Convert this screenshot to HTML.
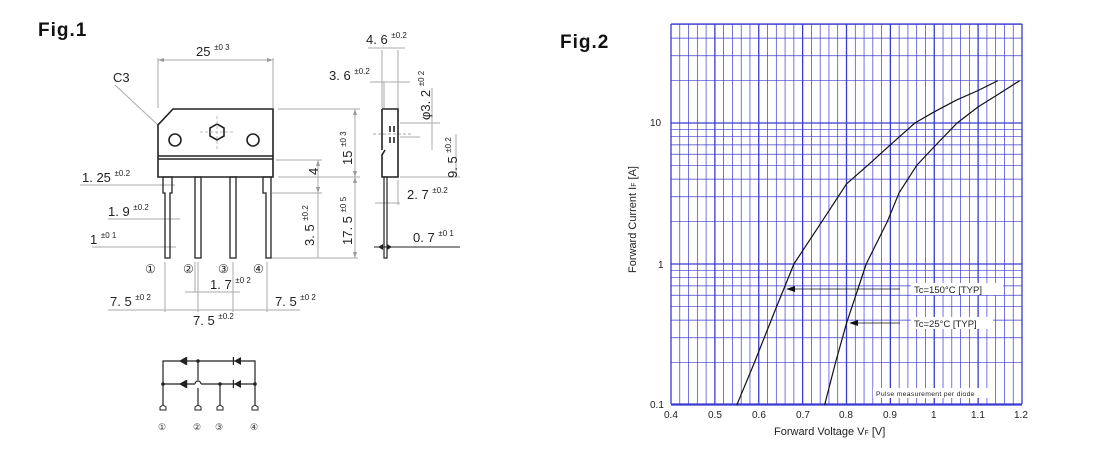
<!DOCTYPE html>
<html><head><meta charset="utf-8"><style>
html,body{margin:0;padding:0;background:#fff;width:1100px;height:450px;overflow:hidden}
svg{position:absolute;left:0;top:0}
text{font-family:"Liberation Sans",sans-serif}
.m{font-family:"Liberation Sans",sans-serif;font-size:13px;fill:#222}
.m tspan{font-size:8px}
</style></head><body>
<svg id="g" width="1100" height="450" viewBox="0 0 1100 450">
<text x="38" y="36" font-size="19" font-weight="bold" fill="#111" letter-spacing="1">Fig.1</text>
<text x="560" y="48" font-size="19" font-weight="bold" fill="#111" letter-spacing="1">Fig.2</text>

<g stroke="#aaa" stroke-width="1" fill="none">
<line x1="158" y1="58" x2="158" y2="108"/><line x1="273" y1="58" x2="273" y2="108"/>
<line x1="158" y1="60" x2="273" y2="60"/>
<line x1="115" y1="85" x2="158" y2="125"/>
<line x1="278" y1="109" x2="360" y2="109"/><line x1="278" y1="177" x2="360" y2="177"/>
<line x1="355" y1="109" x2="355" y2="258"/>
<line x1="276" y1="160" x2="322" y2="160"/><line x1="318" y1="160" x2="318" y2="258"/>
<line x1="272" y1="193" x2="322" y2="193"/>
<line x1="270" y1="258" x2="358" y2="258"/>
<line x1="80" y1="185" x2="175" y2="185"/>
<line x1="108" y1="219" x2="180" y2="219"/>
<line x1="92" y1="247" x2="176" y2="247"/>
<line x1="165" y1="262" x2="165" y2="312"/><line x1="198" y1="262" x2="198" y2="312"/>
<line x1="195" y1="262" x2="195" y2="292"/><line x1="233" y1="262" x2="233" y2="312"/><line x1="267" y1="262" x2="267" y2="312"/>
<line x1="108" y1="310" x2="300" y2="310"/>
<line x1="185" y1="292" x2="240" y2="292"/>
<line x1="368" y1="48" x2="405" y2="48"/>
<line x1="382" y1="50" x2="382" y2="108"/><line x1="398" y1="50" x2="398" y2="108"/>
<line x1="370" y1="82" x2="410" y2="82"/><line x1="384" y1="82" x2="384" y2="108"/>
<line x1="400" y1="123" x2="440" y2="123"/><line x1="400" y1="137" x2="420" y2="137"/>
<line x1="432" y1="88" x2="432" y2="150"/>
<line x1="400" y1="177" x2="460" y2="177"/>
<line x1="456" y1="134" x2="456" y2="177"/>
<line x1="375" y1="203" x2="400" y2="203"/><line x1="398" y1="180" x2="398" y2="205"/>
<line x1="373" y1="134" x2="412" y2="134" stroke-dasharray="3,2"/>
</g>
<g fill="#999"><path d="M158 60l6-2v4zM273 60l-6-2v4zM355 109l-2 6h4zM355 177l-2-6h4zM355 177l-2 6h4zM355 258l-2-6h4zM318 160l-2 6h4zM318 193l-2-6h4z"/></g>
<line x1="374" y1="247" x2="460" y2="247" stroke="#222" stroke-width="1"/>
<path d="M378 247l5-3v6zM392 247l-5-3v6z" fill="#222"/>

<g stroke="#222" stroke-width="1.6" fill="none">
<path d="M173 109H273V177H158V125Z"/>
<line x1="158" y1="156" x2="273" y2="156"/><line x1="158" y1="159" x2="273" y2="159"/>
<circle cx="175" cy="140" r="6"/><circle cx="253" cy="140" r="6"/>
<polygon points="217,124 224,128 224,136 217,140 210,136 210,128"/>
<path d="M163 177h9v16h-2v65h-5v-65h-2z" stroke-width="1.3"/>
<rect x="195" y="177" width="6" height="81" stroke-width="1.3"/>
<rect x="230" y="177" width="6" height="81" stroke-width="1.3"/>
<path d="M263 177h8v81h-5v-65h-3z" stroke-width="1.3"/>
<path d="M382 109h16v68h-16v-22l3-5" /><line x1="382" y1="109" x2="382" y2="150"/>
<rect x="384" y="177" width="3" height="81" stroke-width="1.2"/>
<line x1="390" y1="126" x2="390" y2="132"/><line x1="394" y1="126" x2="394" y2="132"/>
<line x1="390" y1="137" x2="390" y2="143"/><line x1="394" y1="137" x2="394" y2="143"/>
</g>
<g stroke="#bbb" stroke-dasharray="3,2"><line x1="200" y1="132" x2="234" y2="132"/><line x1="217" y1="116" x2="217" y2="150"/></g>

<text class="m" x="113" y="82">C3</text>
<text class="m" x="196" y="56">25 <tspan dy="-6">±0 3</tspan></text>
<text class="m" x="366" y="44">4. 6 <tspan dy="-6">±0.2</tspan></text>
<text class="m" x="329" y="80">3. 6 <tspan dy="-6">±0.2</tspan></text>
<text class="m" x="82" y="182">1. 25 <tspan dy="-6">±0.2</tspan></text>
<text class="m" x="108" y="216">1. 9 <tspan dy="-6">±0.2</tspan></text>
<text class="m" x="90" y="244">1 <tspan dy="-6">±0 1</tspan></text>
<text class="m" x="407" y="199">2. 7 <tspan dy="-6">±0.2</tspan></text>
<text class="m" x="413" y="242">0. 7 <tspan dy="-6">±0 1</tspan></text>
<text class="m" x="210" y="289">1. 7 <tspan dy="-6">±0 2</tspan></text>
<text class="m" x="110" y="306">7. 5 <tspan dy="-6">±0 2</tspan></text>
<text class="m" x="275" y="306">7. 5 <tspan dy="-6">±0 2</tspan></text>
<text class="m" x="193" y="325">7. 5 <tspan dy="-6">±0.2</tspan></text>
<text class="m" transform="translate(318,175) rotate(-90)">4</text>
<text class="m" transform="translate(352,165) rotate(-90)">15 <tspan dy="-6">±0 3</tspan></text>
<text class="m" transform="translate(352,245) rotate(-90)">17. 5 <tspan dy="-6">±0 5</tspan></text>
<text class="m" transform="translate(314,246) rotate(-90)">3. 5 <tspan dy="-6">±0.2</tspan></text>
<text class="m" transform="translate(430,120) rotate(-90)">φ3. 2 <tspan dy="-6">±0 2</tspan></text>
<text class="m" transform="translate(457,178) rotate(-90)">9. 5 <tspan dy="-6">±0.2</tspan></text>
<g font-family="'DejaVu Sans',sans-serif" font-size="12" fill="#222">
<text x="145" y="273">①</text><text x="183" y="273">②</text><text x="218" y="273">③</text><text x="253" y="273">④</text>
</g>

<g stroke="#222" stroke-width="1.2" fill="none">
<path d="M163 407V361H255V407"/>
<path d="M163 384H195M201 384H255"/><path d="M195 384a3 3 0 0 1 6 0"/>
<path d="M198 361V380M198 388V407"/>
<line x1="220" y1="384" x2="220" y2="407"/>
</g>
<g fill="#222">
<circle cx="198" cy="361" r="1.8"/><circle cx="163" cy="384" r="1.8"/><circle cx="220" cy="384" r="1.8"/><circle cx="255" cy="384" r="1.8"/>
<path d="M179 361l7-4v8z M186 357v8h1.2v-8z"/>
<path d="M179 384l7-4v8z M186 380v8h1.2v-8z"/>
<path d="M234 361l7-4v8z M234 357v8h-1.2v-8z"/>
<path d="M234 384l7-4v8z M234 380v8h-1.2v-8z"/>
</g>
<g fill="#fff" stroke="#222" stroke-width="1"><path d="M160 407l3-2 3 2v3h-6z"/><path d="M195 407l3-2 3 2v3h-6z"/><path d="M217 407l3-2 3 2v3h-6z"/><path d="M252 407l3-2 3 2v3h-6z"/></g>
<g font-family="'DejaVu Sans',sans-serif" font-size="9" fill="#333">
<text x="158" y="430">①</text><text x="193" y="430">②</text><text x="215" y="430">③</text><text x="250" y="430">④</text>
</g>

<g id="grid"></g>
<g font-family="'Liberation Sans',sans-serif" font-size="10" fill="#222">
<text x="650" y="126">10</text><text x="658" y="268">1</text><text x="650" y="408">0.1</text>
<text x="664" y="418">0.4</text><text x="708" y="418">0.5</text><text x="752" y="418">0.6</text><text x="796" y="418">0.7</text><text x="839" y="418">0.8</text><text x="883" y="418">0.9</text><text x="931" y="418">1</text><text x="971" y="418">1.1</text><text x="1014" y="418">1.2</text>
<text x="774" y="435" font-size="11">Forward Voltage  V<tspan font-size="7">F</tspan>  [V]</text>
<text transform="translate(636,273) rotate(-90)" font-size="11">Forward Current  I<tspan font-size="7">F</tspan> [A]</text>
</g>
<g id="lab"></g>
</svg>
<script>
var L=671,R=1022,T=24,B=404,ns="http://www.w3.org/2000/svg",g=document.getElementById('grid');
function X(v){return L+(v-0.4)/0.8*(R-L)}
function Y(i){return 264-Math.log10(i)*141}
function ln(a,b,c,d,w,col){var e=document.createElementNS(ns,'line');e.setAttribute('x1',a);e.setAttribute('y1',b);e.setAttribute('x2',c);e.setAttribute('y2',d);e.setAttribute('stroke',col||'#3a3ad0');e.setAttribute('stroke-width',w);g.appendChild(e)}
for(var k=0;k<=40;k++){var v=0.4+k*0.02;ln(X(v),T,X(v),B,k%5==0?1.3:0.7)}
[0.1,1,10].forEach(function(d){for(var m=1;m<10;m++){var i=d*m;if(Y(i)<T)continue;ln(L,Y(i),R,Y(i),m==1?1.3:0.7)}});
ln(L,T,R,T,1.3);ln(L,B,R,B,1.3);
function curve(p){var s='';for(var j=0;j<p.length;j++)s+=(j?'L':'M')+X(p[j][0]).toFixed(1)+' '+Y(p[j][1]).toFixed(1);var e=document.createElementNS(ns,'path');e.setAttribute('d',s);e.setAttribute('fill','none');e.setAttribute('stroke','#111');e.setAttribute('stroke-width','1.2');e.setAttribute('stroke-linejoin','round');g.appendChild(e)}
curve([[0.55,0.1],[0.59,0.2],[0.635,0.45],[0.68,1],[0.744,2],[0.8,3.7],[0.848,5],[0.9,7],[0.956,10],[1.0,12],[1.05,14.5],[1.1,17],[1.145,20]]);
curve([[0.75,0.1],[0.775,0.2],[0.8,0.38],[0.845,1],[0.893,2],[0.92,3.2],[0.96,5],[1.0,6.8],[1.052,10],[1.1,13],[1.15,16.3],[1.195,20]]);
ln(900,289,792,289,0.8,'#111');ln(900,323,856,323,0.8,'#111');
var a=document.createElementNS(ns,'path');a.setAttribute('d','M786 289l9-3v6zM849 323l9-3v6z');a.setAttribute('fill','#111');g.appendChild(a);
var lb=document.getElementById('lab');
lb.innerHTML='<rect x="911" y="283" width="92" height="12" fill="#fff"/><rect x="911" y="317" width="82" height="12" fill="#fff"/><rect x="873" y="388" width="120" height="10" fill="#fff"/>'+
'<text x="914" y="293" font-size="9.5" fill="#222">Tc=150°C [TYP]</text><text x="914" y="327" font-size="9.5" fill="#222">Tc=25°C [TYP]</text><text x="876" y="396" font-size="6.8" fill="#222" letter-spacing="0.3">Pulse  measurement  per  diode</text>';
</script>
</body></html>
